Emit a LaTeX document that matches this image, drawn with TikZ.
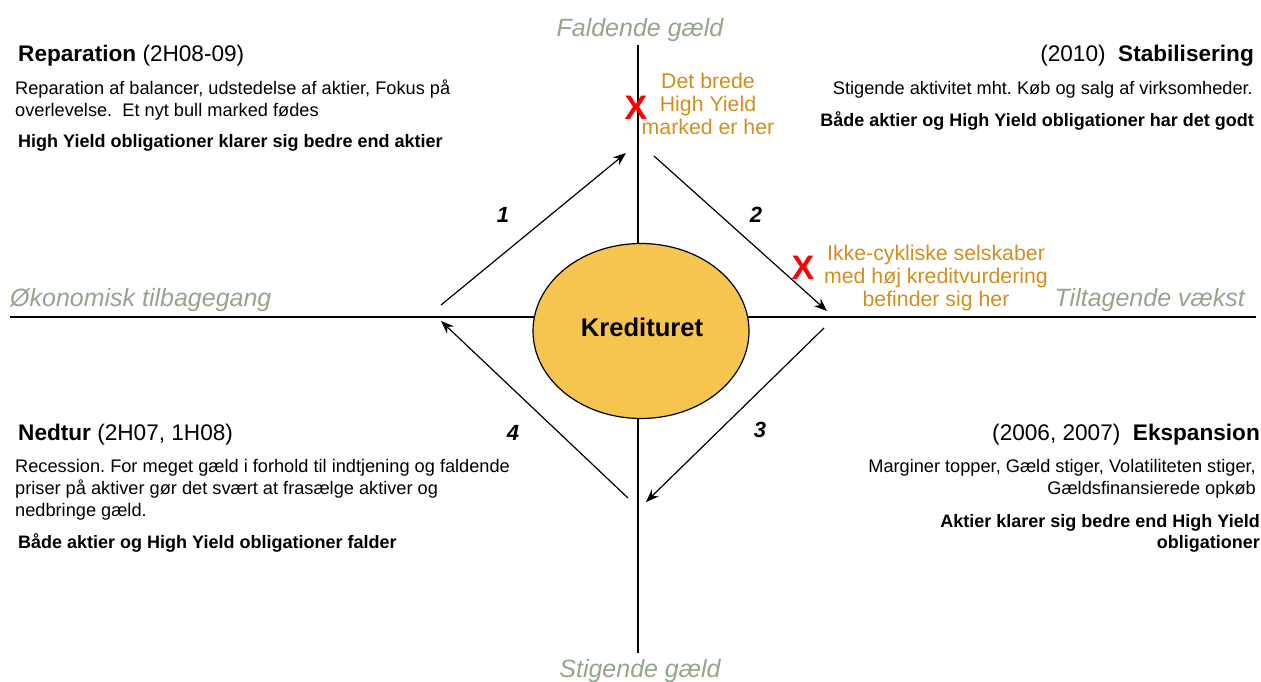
\documentclass[tikz,border=0pt]{standalone}
\usepackage{fontspec}
\setmainfont{Liberation Sans}
\usetikzlibrary{arrows.meta,shapes.geometric}
\definecolor{axisgreen}{HTML}{94A58C}
\definecolor{goldtext}{HTML}{D28E1E}
\definecolor{ellfill}{HTML}{F5C54F}
\frenchspacing
\begin{document}
\begin{tikzpicture}[x=1pt,y=-1pt,
  axis/.style={line width=2pt,black},
  cyc/.style={line width=1.2pt,-{Stealth[length=13pt,width=10pt]}},
  axlabel/.style={font=\fontsize{25}{30}\selectfont\itshape,text=axisgreen,inner sep=0pt},
  head/.style={font=\fontsize{22.6}{26}\selectfont,inner sep=0pt},
  body/.style={font=\fontsize{18.2}{22}\selectfont,inner sep=0pt},
  bbody/.style={font=\fontsize{18}{22}\selectfont\bfseries,inner sep=0pt},
  gold/.style={font=\fontsize{21.3}{24}\selectfont,text=goldtext,inner sep=0pt},
  redx/.style={font=\fontsize{34}{34}\selectfont\bfseries,text=red,inner sep=0pt},
  numlab/.style={font=\fontsize{22}{26}\selectfont\bfseries\itshape,inner sep=0pt}]
\useasboundingbox (0,0) rectangle (1261,682);
% axes
\coordinate (hl) at (10,317);
\coordinate (hr) at (1256,317);
\coordinate (vt) at (638,45);
\coordinate (vb) at (638,653);
\draw[axis] (hl) -- (hr);
\draw[axis] (vt) -- (vb);
% ellipse
\node[ellipse,draw,line width=1.2pt,fill=ellfill,minimum width=216pt,minimum height=175pt,inner sep=0pt] (ell) at (641,331) {};
\node[font=\fontsize{25.6}{30}\selectfont\bfseries,inner sep=0pt] (kred) at (642,327) {Kredituret};
% cycle arrows
\coordinate (a1s) at (441,305);
\coordinate (a1e) at (626,153);
\coordinate (a2s) at (654,156);
\coordinate (a2e) at (827,311);
\coordinate (a3s) at (824,328);
\coordinate (a3e) at (646,502);
\coordinate (a4s) at (628,498);
\coordinate (a4e) at (441,321);
\draw[cyc] (a1s) -- (a1e);
\draw[cyc] (a2s) -- (a2e);
\draw[cyc] (a3s) -- (a3e);
\draw[cyc] (a4s) -- (a4e);
\node[numlab] (n1) at (503,215) {1};
\node[numlab] (n2) at (756,215) {2};
\node[numlab] (n3) at (760,430) {3};
\node[numlab] (n4) at (513,433) {4};
% axis labels
\node[axlabel,anchor=base] (fg) at (640,37) {Faldende gæld};
\node[axlabel,anchor=base] (sg) at (640,677) {Stigende gæld};
\node[axlabel,anchor=base west] (ot) at (10,306) {Økonomisk tilbagegang};
\node[axlabel,anchor=base east] (tv) at (1245,306) {Tiltagende vækst};
% gold notes
\node[redx] (x1) at (636,108) {X};
\node[gold,anchor=base] (g1a) at (708,89) {Det brede};
\node[gold,anchor=base] (g1b) at (708,112) {High Yield};
\node[gold,anchor=base] (g1c) at (708,135) {marked er her};
\node[redx] (x2) at (803,268) {X};
\node[gold,anchor=base] (g2a) at (936,260) {Ikke-cykliske selskaber};
\node[gold,anchor=base] (g2b) at (936,283) {med høj kreditvurdering};
\node[gold,anchor=base] (g2c) at (936,306) {befinder sig her};
% top left
\node[head,anchor=base west] (h1) at (18,62) {\textbf{Reparation} (2H08-09)};
\node[body,anchor=base west] (b1a) at (15,95) {Reparation af balancer, udstedelse af aktier, Fokus på};
\node[body,anchor=base west] (b1b) at (15,117) {overlevelse.\ \ Et nyt bull marked fødes};
\node[bbody,anchor=base west] (b1c) at (18,148) {High Yield obligationer klarer sig bedre end aktier};
% top right
\node[head,anchor=base east] (h2) at (1254,62) {(2010)\ \ \textbf{Stabilisering}};
\node[body,anchor=base east] (b2a) at (1253,95) {Stigende aktivitet mht. Køb og salg af virksomheder.};
\node[bbody,anchor=base east] (b2b) at (1254,127) {Både aktier og High Yield obligationer har det godt};
% bottom left
\node[head,anchor=base west] (h3) at (18,440) {\textbf{Nedtur} (2H07, 1H08)};
\node[body,anchor=base west] (b3a) at (15,472) {Recession. For meget gæld i forhold til indtjening og faldende};
\node[body,anchor=base west] (b3b) at (15,494) {priser på aktiver gør det svært at frasælge aktiver og};
\node[body,anchor=base west] (b3c) at (15,516) {nedbringe gæld.};
\node[bbody,anchor=base west] (b3d) at (18,548) {Både aktier og High Yield obligationer falder};
% bottom right
\node[head,anchor=base east] (h4) at (1260,440) {(2006, 2007)\ \ \textbf{Ekspansion}};
\node[body,anchor=base east] (b4a) at (1256,472) {Marginer topper, Gæld stiger, Volatiliteten stiger,};
\node[body,anchor=base east] (b4b) at (1256,494) {Gældsfinansierede opkøb};
\node[bbody,anchor=base east] (b4c) at (1260,527) {Aktier klarer sig bedre end High Yield};
\node[bbody,anchor=base east] (b4d) at (1260,548) {obligationer};
\end{tikzpicture}
\end{document}
